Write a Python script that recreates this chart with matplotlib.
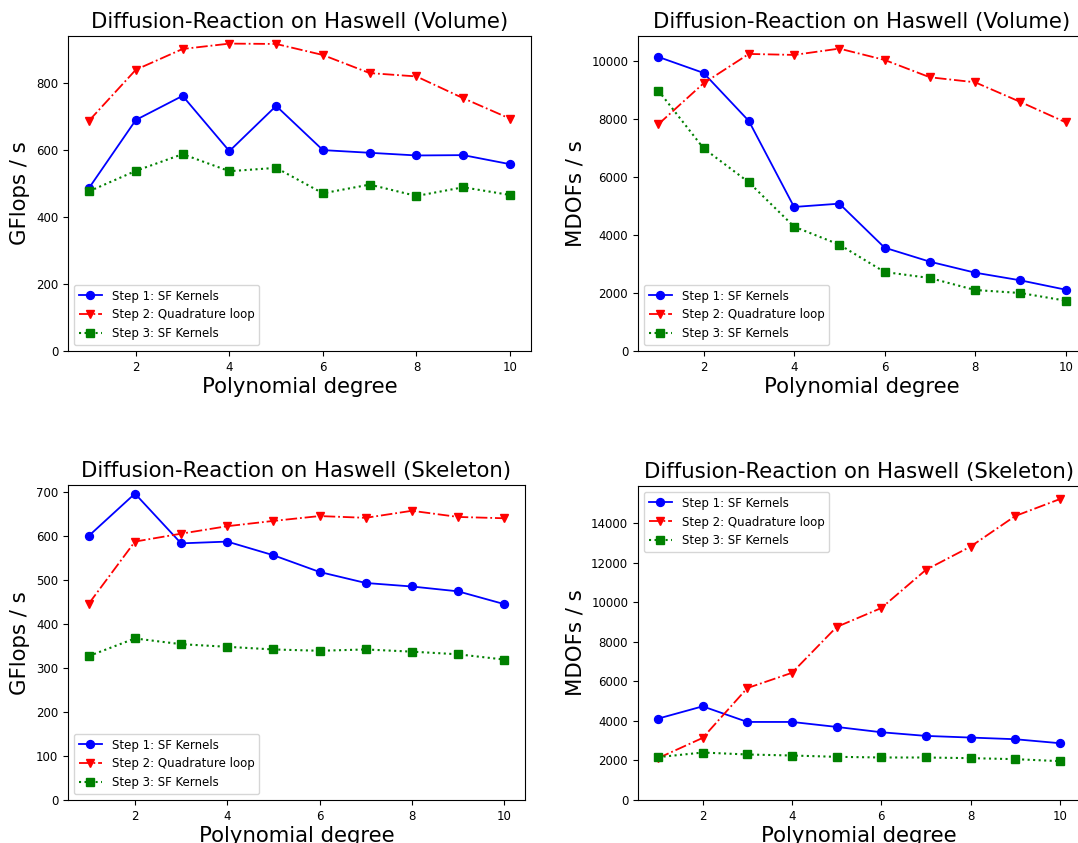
import matplotlib
matplotlib.use("Agg")
import matplotlib.pyplot as plt

degree = [1, 2, 3, 4, 5, 6, 7, 8, 9, 10]

# Volume, GFlops/s
vol_gflops_step1 = [487, 690, 762, 597, 732, 600, 592, 584, 585, 558]
vol_gflops_step2 = [688, 840, 902, 918, 917, 884, 830, 820, 755, 694]
vol_gflops_step3 = [477, 538, 588, 537, 547, 471, 497, 463, 489, 466]

# Volume, MDOFs/s
vol_mdofs_step1 = [10138, 9586, 7931, 4966, 5080, 3563, 3080, 2701, 2437, 2115]
vol_mdofs_step2 = [7816, 9230, 10241, 10207, 10425, 10034, 9437, 9264, 8586, 7885]
vol_mdofs_step3 = [8977, 6988, 5816, 4287, 3667, 2724, 2517, 2103, 2000, 1736]

# Skeleton, GFlops/s
skel_gflops_step1 = [600, 696, 583, 587, 556, 518, 493, 485, 474, 445]
skel_gflops_step2 = [446, 587, 605, 622, 634, 645, 641, 657, 643, 640]
skel_gflops_step3 = [327, 367, 354, 348, 342, 339, 342, 337, 331, 319]

# Skeleton, MDOFs/s
skel_mdofs_step1 = [4118, 4740, 3950, 3950, 3698, 3429, 3244, 3160, 3076, 2874]
skel_mdofs_step2 = [2118, 3143, 5664, 6437, 8756, 9714, 11647, 12824, 14370, 15227]
skel_mdofs_step3 = [2168, 2403, 2303, 2252, 2185, 2151, 2151, 2118, 2067, 1966]

labels = ["Step 1: SF Kernels", "Step 2: Quadrature loop", "Step 3: SF Kernels"]

fig = plt.figure(figsize=(10.78, 8.43), dpi=100)

axes_pos = [
    [0.0631, 0.5836, 0.4295, 0.3737],
    [0.5918, 0.5836, 0.4156, 0.3737],
    [0.0631, 0.0510, 0.4239, 0.3733],
    [0.5918, 0.0510, 0.4100, 0.3725],
]

panels = [
    ("Diffusion-Reaction on Haswell (Volume)", "GFlops / s",
     vol_gflops_step1, vol_gflops_step2, vol_gflops_step3, "lower left"),
    ("Diffusion-Reaction on Haswell (Volume)", "MDOFs / s",
     vol_mdofs_step1, vol_mdofs_step2, vol_mdofs_step3, "lower left"),
    ("Diffusion-Reaction on Haswell (Skeleton)", "GFlops / s",
     skel_gflops_step1, skel_gflops_step2, skel_gflops_step3, "lower left"),
    ("Diffusion-Reaction on Haswell (Skeleton)", "MDOFs / s",
     skel_mdofs_step1, skel_mdofs_step2, skel_mdofs_step3, "upper left"),
]

for pos, (title, ylabel, s1, s2, s3, loc) in zip(axes_pos, panels):
    ax = fig.add_axes(pos)
    ax.plot(degree, s1, "bo-", label=labels[0], markersize=5.7, linewidth=1.3)
    ax.plot(degree, s2, "rv-.", label=labels[1], markersize=5.7, linewidth=1.3)
    ax.plot(degree, s3, "gs:", label=labels[2], markersize=5.7, linewidth=1.5)
    ax.set_ylim(bottom=0)
    ax.set_xticks([2, 4, 6, 8, 10])
    ax.tick_params(labelsize=8.5)
    ax.set_title(title, fontsize=15.3)
    ax.set_xlabel("Polynomial degree", fontsize=15.3, labelpad=2)
    ax.set_ylabel(ylabel, fontsize=15.3)
    ax.legend(loc=loc, fontsize=8.5)

fig.savefig("out.png", dpi=100)
